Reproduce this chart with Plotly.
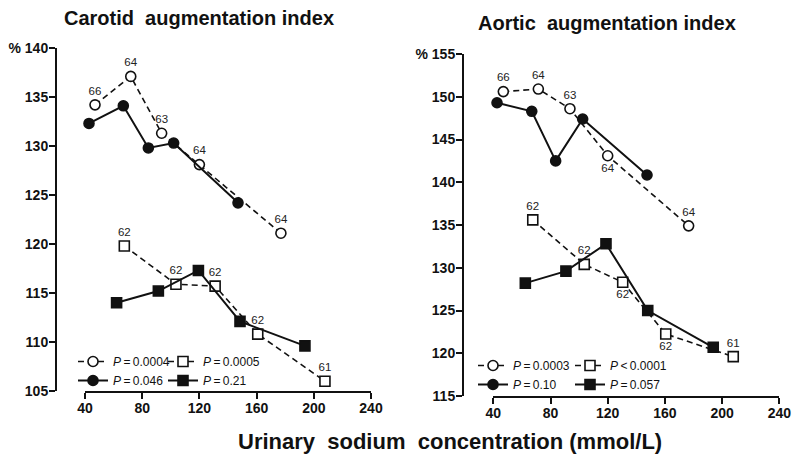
import plotly.graph_objects as go

FONT = "Liberation Sans, Arial, sans-serif"
INK = "#111111"

# ---------------- data ----------------
x_ticks = [40, 80, 120, 160, 200, 240]
car_y_ticks = [105, 110, 115, 120, 125, 130, 135, 140]
car_y_labels = ["105", "110", "115", "120", "125", "130", "135", "% 140"]
aor_y_ticks = [115, 120, 125, 130, 135, 140, 145, 150, 155]
aor_y_labels = ["115", "120", "125", "130", "135", "140", "145", "150", "% 155"]

# Carotid
car_oc_x = [47, 72, 93.6, 120, 177]
car_oc_y = [134.2, 137.1, 131.3, 128.1, 121.1]
car_oc_n = ["66", "64", "63", "64", "64"]
car_oc_pos = ["top center"] * 5
car_fc_x = [42.8, 66.8, 84.3, 102, 147]
car_fc_y = [132.3, 134.1, 129.8, 130.3, 124.2]
car_os_x = [67.5, 103.6, 131, 160.8, 207.8]
car_os_y = [119.8, 115.9, 115.7, 110.8, 106.0]
car_os_n = ["62", "62", "62", "62", "61"]
car_os_pos = ["top center"] * 5
car_fs_x = [62.1, 91.3, 119.3, 148.4, 193.8]
car_fs_y = [114.0, 115.2, 117.3, 112.1, 109.6]
car_p = ["<i>P</i>\u2009=\u20090.0004", "<i>P</i>\u2009=\u20090.046",
         "<i>P</i>\u2009=\u20090.0005", "<i>P</i>\u2009=\u20090.21"]

# Aortic
aor_oc_x = [47, 71.5, 93.6, 120, 176.6]
aor_oc_y = [150.6, 150.9, 148.6, 143.1, 134.9]
aor_oc_n = ["66", "64", "63", "64", "64"]
aor_oc_pos = ["top center", "top center", "top center", "bottom center", "top center"]
aor_fc_x = [42.6, 66.9, 83.6, 102.5, 147.5]
aor_fc_y = [149.3, 148.3, 142.5, 147.4, 140.85]
aor_os_x = [67.6, 103.6, 130.5, 160.6, 207.8]
aor_os_y = [135.6, 130.4, 128.3, 122.25, 119.6]
aor_os_n = ["62", "62", "62", "62", "61"]
aor_os_pos = ["top center", "top center", "bottom center", "bottom center", "top center"]
aor_fs_x = [62.4, 90.8, 118.8, 148, 193.8]
aor_fs_y = [128.2, 129.6, 132.8, 125.0, 120.7]
aor_p = ["<i>P</i>\u2009=\u20090.0003", "<i>P</i>\u2009=\u20090.10",
         "<i>P</i>\u2009&lt;\u20090.0001", "<i>P</i>\u2009=\u20090.057"]

fig = go.Figure()


def series(x, y, xa, ya, symbol, filled, dashed, name, legend):
    fig.add_trace(go.Scatter(
        x=x, y=y, xaxis=xa, yaxis=ya, mode="lines+markers", name=name,
        legend=legend, cliponaxis=False,
        line=dict(color=INK, width=1.6 if dashed else 2, dash="6px,4px" if dashed else "solid"),
        marker=dict(symbol=symbol, size=10, color=INK if filled else "white",
                    line=dict(color=INK, width=1.6)),
    ))


def labels(x, y, n, pos, xa, ya):
    fig.add_trace(go.Scatter(
        x=x, y=y, xaxis=xa, yaxis=ya, mode="markers+text", text=n, textposition=pos,
        cliponaxis=False, showlegend=False, hoverinfo="skip",
        marker=dict(size=10, color="rgba(0,0,0,0)"),
        textfont=dict(family=FONT, size=11.5, color="#222"),
    ))


# left panel
series(car_oc_x, car_oc_y, "x", "y", "circle", False, True, car_p[0], "legend")
series(car_fc_x, car_fc_y, "x", "y", "circle", True, False, car_p[1], "legend")
series(car_os_x, car_os_y, "x", "y", "square", False, True, car_p[2], "legend2")
series(car_fs_x, car_fs_y, "x", "y", "square", True, False, car_p[3], "legend2")
labels(car_oc_x, car_oc_y, car_oc_n, car_oc_pos, "x", "y")
labels(car_os_x, car_os_y, car_os_n, car_os_pos, "x", "y")

# right panel
series(aor_oc_x, aor_oc_y, "x2", "y2", "circle", False, True, aor_p[0], "legend3")
series(aor_fc_x, aor_fc_y, "x2", "y2", "circle", True, False, aor_p[1], "legend3")
series(aor_os_x, aor_os_y, "x2", "y2", "square", False, True, aor_p[2], "legend4")
series(aor_fs_x, aor_fs_y, "x2", "y2", "square", True, False, aor_p[3], "legend4")
labels(aor_oc_x, aor_oc_y, aor_oc_n, aor_oc_pos, "x2", "y2")
labels(aor_os_x, aor_os_y, aor_os_n, aor_os_pos, "x2", "y2")

W, H = 800, 458
px = lambda v: v / W
py = lambda v: 1 - v / H

tickfont = dict(family=FONT, size=14, color=INK, weight="bold")
xcommon = dict(range=[40, 240], tickvals=x_ticks, showline=True, linewidth=2, linecolor=INK,
               ticks="outside", ticklen=6, tickwidth=2, tickcolor=INK, showgrid=False,
               zeroline=False, tickfont=tickfont, automargin=False, ticklabelstandoff=-3)
ycommon = dict(showline=True, linewidth=2, linecolor=INK, ticks="outside", ticklen=6,
               tickwidth=2, tickcolor=INK, showgrid=False, zeroline=False, tickfont=tickfont,
               anchor="free", automargin=False, ticklabelstandoff=-2)

legfont = dict(family=FONT, size=12, color=INK)
legcommon = dict(bgcolor="rgba(0,0,0,0)", font=legfont, xanchor="left", yanchor="top",
                 itemwidth=30, tracegroupgap=0)

ann = dict(xref="paper", yref="paper", showarrow=False, xanchor="center", yanchor="middle")

fig.update_layout(
    width=W, height=H, margin=dict(l=0, r=0, t=0, b=0, autoexpand=False),
    paper_bgcolor="white", plot_bgcolor="white",
    xaxis=dict(domain=[px(85), px(371)], anchor="y", **xcommon),
    yaxis=dict(domain=[py(391), py(48)], range=[105, 140], tickvals=car_y_ticks,
               ticktext=car_y_labels, position=px(56), **ycommon),
    xaxis2=dict(domain=[px(493.3), px(779.3)], anchor="y2", **xcommon),
    yaxis2=dict(domain=[py(396), py(54)], range=[115, 155], tickvals=aor_y_ticks,
                ticktext=aor_y_labels, position=px(463), **ycommon),
    legend=dict(x=px(73), y=py(347), **legcommon),
    legend2=dict(x=px(163), y=py(347), **legcommon),
    legend3=dict(x=px(473), y=py(351), **legcommon),
    legend4=dict(x=px(570), y=py(351), **legcommon),
    annotations=[
        dict(text="<b>Carotid  augmentation index</b>", x=px(199), y=py(18),
             font=dict(family=FONT, size=20, color=INK), **ann),
        dict(text="<b>Aortic  augmentation index</b>", x=px(607), y=py(23),
             font=dict(family=FONT, size=20, color=INK), **ann),
        dict(text="<b>Urinary  sodium  concentration (mmol/L)</b>", x=px(450), y=py(441),
             font=dict(family=FONT, size=22, color=INK), **ann),
    ],
)

fig.write_html("out.html", config={"displayModeBar": False},
               post_script="document.body.style.margin='0';document.body.style.overflow='hidden';")
